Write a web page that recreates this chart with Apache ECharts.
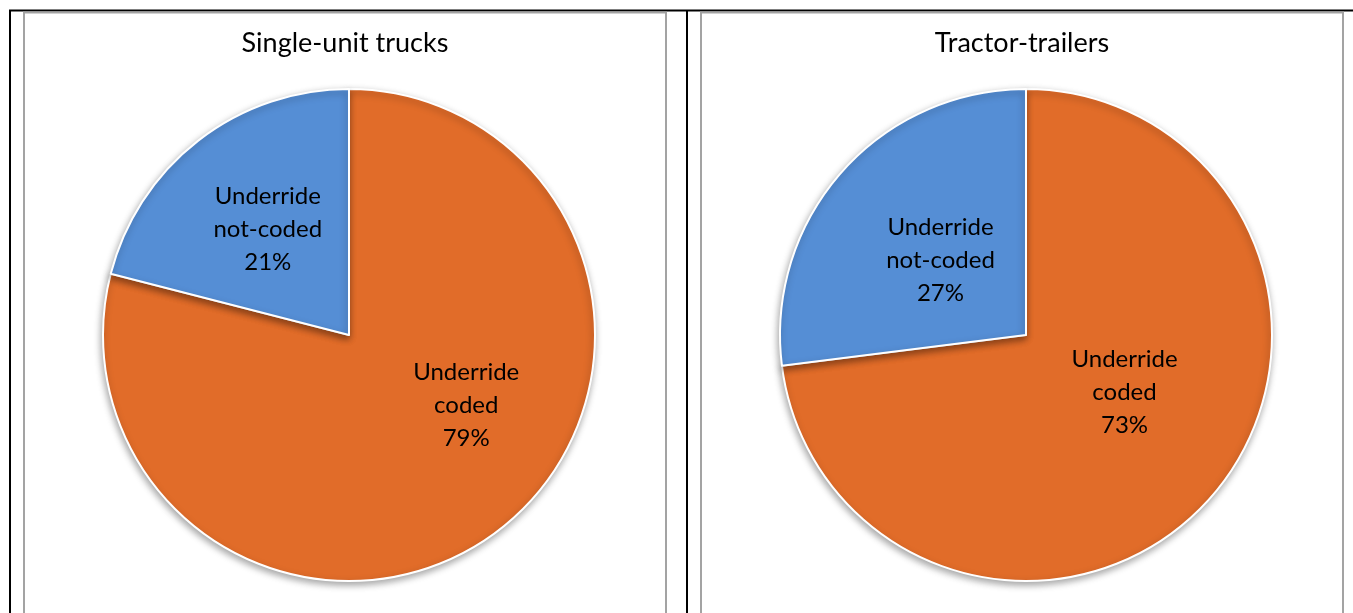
<!DOCTYPE html>
<html>
<head>
<meta charset="utf-8">
<script src="https://cdn.jsdelivr.net/npm/echarts@6/dist/echarts.min.js"></script>
<style>
html,body{margin:0;padding:0;background:#fff;}
#chart{width:1353px;height:613px;}
</style>
</head>
<body>
<div id="chart"></div>
<script>
// ---- data ----
const chartTitles = ['Single-unit trucks', 'Tractor-trailers'];
const categories = ['Underride\ncoded', 'Underride\nnot-coded'];
const singleUnitValues = [79, 21];
const tractorTrailerValues = [73, 27];
const sliceColors = ['#E16C29', '#558ED5'];

// ---- layout / style ----
const FONT = 'Lato, "Open Sans", sans-serif';
const centers = [[349, 335], [1026, 335]];
const radius = 246;
const labelOffsets = [
  [[40, -29], [-4, -6]],
  [[4, -26], [9, 9]]
];

function buildData(values, pieIdx) {
  return values.map((v, i) => ({
    name: categories[i],
    value: v,
    itemStyle: { color: sliceColors[i] },
    label: { offset: labelOffsets[pieIdx][i] }
  }));
}

function pieSeries(values, idx) {
  return {
    type: 'pie',
    center: centers[idx],
    radius: [0, radius],
    startAngle: 90,
    clockwise: true,
    animation: false,
    silent: true,
    data: buildData(values, idx),
    itemStyle: {
      borderColor: '#ffffff',
      borderWidth: 2,
      shadowBlur: 7,
      shadowColor: 'rgba(0,0,0,0.35)',
      shadowOffsetX: -1,
      shadowOffsetY: 3
    },
    label: {
      show: true,
      position: 'inside',
      color: '#000',
      fontFamily: FONT,
      fontSize: 24,
      lineHeight: 33,
      align: 'center',
      formatter: p => p.name + '\n' + p.value + '%'
    },
    labelLine: { show: false },
    emphasis: { disabled: true }
  };
}

const chart = echarts.init(document.getElementById('chart'), null, { renderer: 'canvas' });

const gray = '#a3a3a3';
const graphics = [
  // black outer lines
  { type: 'line', shape: { x1: 9, y1: 10.5, x2: 1353, y2: 10.5 }, style: { stroke: '#000', lineWidth: 2 } },
  { type: 'line', shape: { x1: 10, y1: 10, x2: 10, y2: 613 }, style: { stroke: '#000', lineWidth: 2 } },
  { type: 'line', shape: { x1: 687, y1: 10, x2: 687, y2: 613 }, style: { stroke: '#000', lineWidth: 2 } },
  // gray panel borders
  { type: 'polyline', shape: { points: [[24, 613], [24, 12.5], [666, 12.5], [666, 613]] }, style: { stroke: gray, lineWidth: 2, fill: null } },
  { type: 'polyline', shape: { points: [[701, 613], [701, 12.5], [1343, 12.5], [1343, 613]] }, style: { stroke: gray, lineWidth: 2, fill: null } }
];

chart.setOption({
  backgroundColor: '#ffffff',
  title: [
    { text: chartTitles[0], left: 340, top: 25, textAlign: 'center',
      textStyle: { fontFamily: FONT, fontSize: 27, fontWeight: 'normal', color: '#000' } },
    { text: chartTitles[1], left: 1017, top: 25, textAlign: 'center',
      textStyle: { fontFamily: FONT, fontSize: 27, fontWeight: 'normal', color: '#000' } }
  ],
  graphic: graphics,
  series: [pieSeries(singleUnitValues, 0), pieSeries(tractorTrailerValues, 1)]
});
</script>
</body>
</html>
